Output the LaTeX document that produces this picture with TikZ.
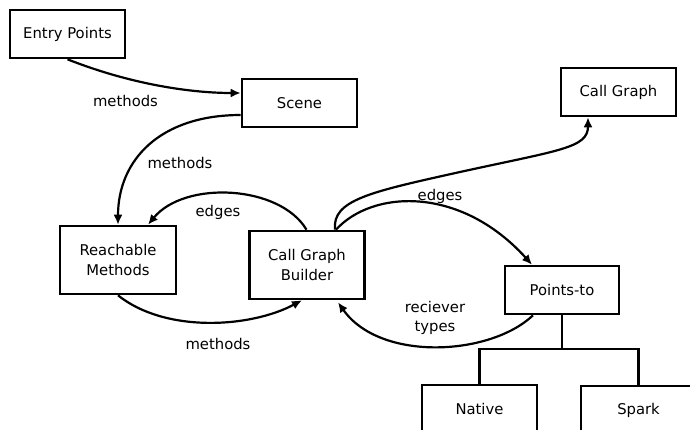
\documentclass[tikz,border=0pt]{standalone}
\usepackage{fontspec}
\setmainfont{DejaVu Sans}
\usetikzlibrary{arrows.meta,calc}

\tikzset{
  box/.style={draw=black, line width=2.6pt, fill=white, minimum width=115pt,
    minimum height=48pt, inner sep=0pt, align=center,
    font=\fontsize{14.8}{19.5}\selectfont},
  tallbox/.style={box, minimum height=68pt},
  lbl/.style={inner sep=0pt, align=center, font=\fontsize{14.8}{19.5}\selectfont},
  flow/.style={draw=black, line width=2.2pt, -{Latex[length=10pt,width=9pt]}},
  branch/.style={draw=black, line width=2.4pt}
}

\begin{document}
\begin{tikzpicture}[x=1pt, y=-1pt]
  \useasboundingbox (0,0) rectangle (690,429);
  \clip (0,0) rectangle (690,429);

  % components
  \node[box] (entry) at (67.5,34) {Entry Points};
  \node[box] (scene) at (299.5,103) {Scene};
  \node[box] (callgraph) at (618.5,92) {Call Graph};
  \node[tallbox, minimum width=116pt] (reach) at (118,260) {Reachable\\Methods};
  \node[tallbox] (builder) at (307,265) {Call Graph\\Builder};
  \node[box, minimum width=114pt] (pts) at (562,290) {Points-to};
  \node[box] (native) at (479.5,409) {Native};
  \node[box] (spark) at (638.5,410) {Spark};

  % points-to implementations
  \coordinate (fork) at (562,349);
  \draw[branch] (pts.south) -- (fork);
  \draw[branch] (fork) -| (native.north);
  \draw[branch] (fork) -| (spark.north);

  % data flow
  \draw[flow] (entry.south) .. controls (130,84) and (190,93) .. ([yshift=10pt]scene.west);
  \draw[flow] ([yshift=-12pt]scene.west) .. controls (160,115) and (118,160) .. (reach.north);
  \draw[flow] ([xshift=-0.5pt]builder.north) .. controls (280,185) and (185,180) .. ([xshift=30pt]reach.north);
  \draw[flow] (reach.south) .. controls (165,333) and (250,328) .. ([xshift=-5pt]builder.south);
  \draw[flow] ([xshift=28pt]builder.north) .. controls (332,200) and (370,192) .. (460,172)
    .. controls (560,150) and (588,148) .. ([xshift=-30.5pt]callgraph.south);
  \draw[flow] ([xshift=29pt]builder.north) .. controls (372,190) and (460,185) .. ([xshift=-30pt]pts.north);
  \draw[flow] ([xshift=-29pt]pts.south) .. controls (490,356) and (380,362) .. ([xshift=31pt,yshift=-2pt]builder.south);

  % edge labels
  \node[lbl] (l1) at (125.5,101) {methods};
  \node[lbl] (l2) at (180,163) {methods};
  \node[lbl] (l3) at (218,212) {edges};
  \node[lbl] (l4) at (218,344) {methods};
  \node[lbl] (l5) at (440,196) {edges};
  \node[lbl] (l6) at (435,318) {reciever\\types};
\end{tikzpicture}
\end{document}
